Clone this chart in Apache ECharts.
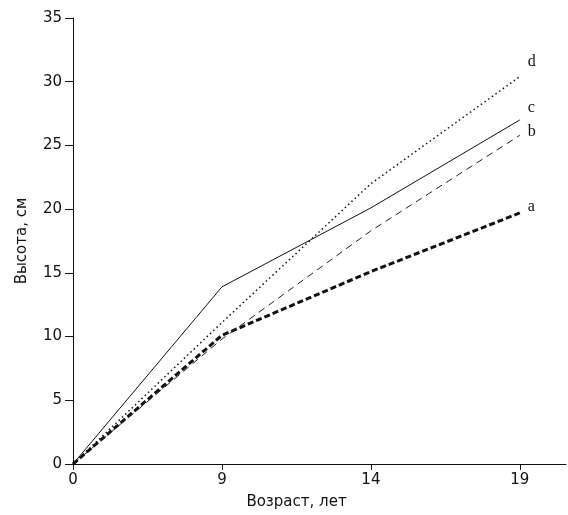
<!DOCTYPE html>
<html>
<head>
<meta charset="utf-8">
<script src="https://cdn.jsdelivr.net/npm/echarts@6/dist/echarts.min.js"></script>
<style>
html,body{margin:0;padding:0;background:#fff;}
#chart{width:568px;height:515px;}
</style>
</head>
<body>
<div id="chart"></div>
<script>
// Tick labels (age, years) - equally spaced on the axis
var ageLabels = ['0', '9', '14', '19'];
// Series values (height, cm) at each age
var seriesA = [0, 10.1, 15.1, 19.7];
var seriesB = [0, 9.8, 18.3, 25.8];
var seriesC = [0, 13.9, 20.1, 27.0];
var seriesD = [0, 11.1, 22.0, 30.4];
var seriesNames = ['a', 'b', 'c', 'd'];
var yTicks = [0, 5, 10, 15, 20, 25, 30, 35];

function toPairs(arr) {
  return arr.map(function (v, i) { return [i, v]; });
}

var font = 'DejaVu Sans, Verdana, sans-serif';
var labelFont = 'Liberation Serif, Times New Roman, serif';

function makeSeries(name, values, lineStyle, labelOffset) {
  return {
    name: name,
    type: 'line',
    data: toPairs(values),
    symbol: 'none',
    silent: true,
    lineStyle: lineStyle,
    endLabel: {
      show: true,
      formatter: name,
      offset: labelOffset,
      distance: 8,
      color: '#111',
      fontFamily: labelFont,
      fontSize: 16
    },
    z: 3
  };
}

var chart = echarts.init(document.getElementById('chart'), null, {renderer: 'canvas'});
chart.setOption({
  animation: false,
  backgroundColor: '#fff',
  grid: {left: 73, right: 2, top: 18, bottom: 51, containLabel: false},
  xAxis: {
    type: 'value',
    min: 0,
    max: 3.31,
    name: 'Возраст, лет',
    nameLocation: 'middle',
    nameGap: 31,
    nameTextStyle: {color: '#111', fontFamily: font, fontSize: 15, padding: [0, 46, 0, 0]},
    axisLine: {show: true, lineStyle: {color: '#111', width: 1}},
    axisTick: {show: true, length: 6, customValues: [0, 1, 2, 3], lineStyle: {color: '#111'}},
    axisLabel: {
      customValues: [0, 1, 2, 3],
      margin: 9,
      color: '#111',
      fontFamily: font,
      fontSize: 15,
      formatter: function (v) {
        var i = Math.round(v);
        return Math.abs(v - i) < 1e-6 && ageLabels[i] !== undefined ? ageLabels[i] : '';
      }
    },
    splitLine: {show: false}
  },
  yAxis: {
    type: 'value',
    min: yTicks[0],
    max: yTicks[yTicks.length - 1],
    interval: 5,
    name: 'Высота, см',
    nameLocation: 'middle',
    nameGap: 43,
    nameTextStyle: {color: '#111', fontFamily: font, fontSize: 15},
    axisLine: {show: true, lineStyle: {color: '#111', width: 1}},
    axisTick: {show: true, length: 8, lineStyle: {color: '#111'}},
    axisLabel: {margin: 11, color: '#111', fontFamily: font, fontSize: 15},
    splitLine: {show: false}
  },
  series: [
    makeSeries('a', seriesA, {color: '#111', width: 3, type: [6, 3]}, [0, -6]),
    makeSeries('b', seriesB, {color: '#222', width: 1, type: [7, 5]}, [0, -3]),
    makeSeries('c', seriesC, {color: '#111', width: 1, type: 'solid'}, [0, -12]),
    makeSeries('d', seriesD, {color: '#111', width: 1.5, type: [1.5, 3]}, [0, -15])
  ]
});
</script>
</body>
</html>
